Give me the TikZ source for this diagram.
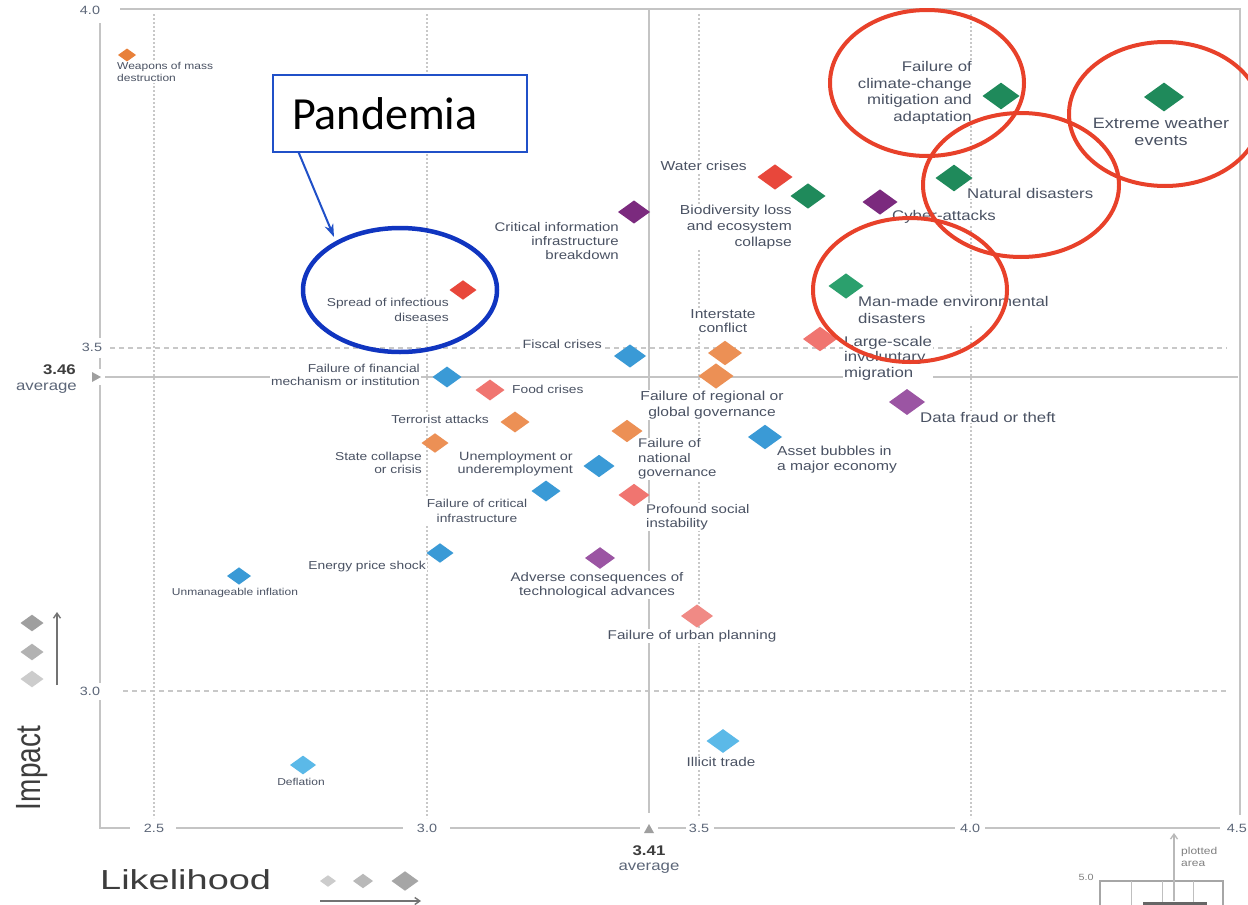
\documentclass[tikz,border=0pt]{standalone}
\usepackage{fontspec}
\setmainfont{Liberation Sans}[FakeStretch=1.2]
\newfontfamily\plainsans{Liberation Sans}
\newfontfamily\calib{Carlito}
\usetikzlibrary{shapes.geometric,arrows.meta,calc}

\definecolor{cor}{HTML}{EC9055}
\definecolor{corD}{HTML}{E8803A}
\definecolor{cgr}{HTML}{1F8A5B}
\definecolor{cgrL}{HTML}{2BA06D}
\definecolor{cred}{HTML}{E8473B}
\definecolor{csal}{HTML}{F07570}
\definecolor{csalL}{HTML}{F08A85}
\definecolor{cblu}{HTML}{3A9AD6}
\definecolor{cbluL}{HTML}{5BB9E8}
\definecolor{cpur}{HTML}{7B2A7E}
\definecolor{cpurL}{HTML}{9B55A3}
\definecolor{lblc}{HTML}{4A5263}
\definecolor{tickc}{HTML}{5C6678}
\definecolor{gridc}{HTML}{C8C8C8}
\definecolor{axc}{HTML}{C4C4C4}
\definecolor{ringred}{HTML}{E8412A}
\definecolor{ringblue}{HTML}{1035C0}
\definecolor{boxblue}{HTML}{2050C8}
\definecolor{titlec}{HTML}{3D3D3D}

\newcommand{\riskT}{\fontsize{10}{12}\selectfont}
\newcommand{\riskL}{\fontsize{12}{13.5}\selectfont}
\newcommand{\riskC}{\fontsize{13}{15}\selectfont}
\newcommand{\riskR}{\fontsize{14}{16.5}\selectfont}

\tikzset{
  dia/.style={shape=diamond, inner sep=0pt, outer sep=0pt, minimum width=#1pt, minimum height={0.72*#1pt}},
  lbl/.style={fill=white, inner sep=1pt, text=lblc},
  gridd/.style={draw=gridc, line width=1.6pt, dash pattern=on 1.6pt off 2.4pt},
  gridh/.style={draw=gridc, line width=1.4pt, dash pattern=on 5pt off 4pt},
  axisl/.style={draw=axc, line width=2pt},
  avgl/.style={draw=axc, line width=1.8pt},
  tick/.style={text=tickc, font=\fontsize{12}{14}\selectfont, inner sep=1pt},
  redring/.style={draw=ringred, line width=4pt},
  bluering/.style={draw=ringblue, line width=4.5pt},
  legdia/.style={dia=#1},
}

\begin{document}
\begin{tikzpicture}[x=1pt,y=-1pt]
\useasboundingbox (0,0) rectangle (1248,905);
\fill[white] (0,0) rectangle (1248,905);

% grid
\foreach \gx in {154,427,699,971} \draw[gridd] (\gx,14) -- (\gx,818);
\draw[gridh] (110,348) -- (1227,348);
\draw[gridh] (123,691) -- (1227,691);
\draw[avgl] (105,377) -- (1238,377);
\draw[avgl] (649,9) -- (649,813);

% frame / axes
\draw[axisl] (120,9) -- (1240,9) -- (1240,815);
\draw[axisl] (100,23) -- (100,338);
\draw[axisl] (100,358) -- (100,369);
\draw[axisl] (100,385) -- (100,683);
\draw[axisl] (100,700) -- (100,828) -- (130,828);
\draw[axisl] (176,828) -- (403,828);
\draw[axisl] (450,828) -- (640,828);
\draw[axisl] (658,828) -- (686,828);
\draw[axisl] (714,828) -- (955,828);
\draw[axisl] (985,828) -- (1220,828);

% average markers
\fill[gray!75] (92,372) -- (101,377) -- (92,382) -- cycle;
\fill[gray!75] (644,833) -- (649,824) -- (654,833) -- cycle;

% tick labels
\node[tick] (t40) at (90,10) {4.0};
\node[tick] (t35) at (92,347) {3.5};
\node[tick] (t30) at (90,691) {3.0};
\node[tick] (b25) at (154,828) {2.5};
\node[tick] (b30) at (427,828) {3.0};
\node[tick] (b35) at (699,828) {3.5};
\node[tick] (b40) at (970,828) {4.0};
\node[tick, anchor=east] (b45) at (1248,828) {4.5};
\node[text=titlec, font=\fontsize{14}{16}\selectfont\bfseries, anchor=east, inner sep=0pt] (avgy) at (76,370) {3.46};
\node[text=tickc, font=\fontsize{14}{16}\selectfont, anchor=east, inner sep=0pt] (avgyl) at (77,388) {average};
\node[text=titlec, font=\fontsize{14}{16}\selectfont\bfseries, inner sep=0pt] (avgx) at (649,851) {3.41};
\node[text=tickc, font=\fontsize{14}{16}\selectfont, inner sep=0pt] (avgxl) at (649,868) {average};

% labels
\node[lbl, font=\riskT, anchor=west, align=left] (lweap) at (116,72) {Weapons of mass\\destruction};
\node[lbl, font=\riskR, anchor=east, align=right] (lclim) at (973,93) {Failure of\\climate-change\\mitigation and\\adaptation};
\node[lbl, font=\fontsize{15}{17}\selectfont, align=center] (lext) at (1161,132) {Extreme weather\\events};
\node[lbl, font=\riskR, anchor=west] (lnat) at (966,193) {Natural disasters};
\node[lbl, font=\riskR, anchor=west] (lcyb) at (891,217) {Cyber-attacks};
\node[lbl, font=\riskC, anchor=east] (lwat) at (748,166) {Water crises};
\node[lbl, font=\fontsize{13}{16}\selectfont, anchor=east, align=right] (lbio) at (793,227) {Biodiversity loss\\and ecosystem\\collapse};
\node[lbl, font=\fontsize{12.5}{14}\selectfont, anchor=east, align=right] (lcii) at (620,241) {Critical information\\infrastructure\\breakdown};
\node[lbl, font=\fontsize{11.5}{15}\selectfont, anchor=east, align=right] (lspr) at (450,310) {Spread of infectious\\diseases};
\node[lbl, font=\riskR, anchor=west, align=left] (lman) at (857,310) {Man-made environmental\\disasters};
\node[lbl, font=\fontsize{14}{15.5}\selectfont, anchor=west, align=left] (llsm) at (843,358) {Large-scale\\involuntary\\migration};
\node[lbl, font=\riskR, anchor=west] (ldat) at (919,417) {Data fraud or theft};
\node[lbl, font=\fontsize{13}{14}\selectfont, align=center] (lint) at (723,321) {Interstate\\conflict};
\node[lbl, font=\fontsize{13}{16}\selectfont, align=center] (lreg) at (712,405) {Failure of regional or\\global governance};
\node[lbl, font=\riskL, anchor=east] (lfis) at (603,344) {Fiscal crises};
\node[lbl, font=\fontsize{11.5}{13}\selectfont, anchor=east, align=right] (lfin) at (421,375) {Failure of financial\\mechanism or institution};
\node[lbl, font=\fontsize{11.5}{13}\selectfont, anchor=west] (lfood) at (511,389) {Food crises};
\node[lbl, font=\fontsize{11.5}{13}\selectfont, anchor=east] (lter) at (490,419) {Terrorist attacks};
\node[lbl, font=\fontsize{11.5}{13}\selectfont, anchor=east, align=right] (lsta) at (423,463) {State collapse\\or crisis};
\node[lbl, font=\fontsize{12}{13}\selectfont, anchor=east, align=right] (lune) at (574,464) {Unemployment or\\underemployment};
\node[lbl, font=\fontsize{12.5}{14.5}\selectfont, anchor=west, align=left] (lnag) at (637,459) {Failure of\\national\\governance};
\node[lbl, font=\riskC, anchor=west, align=left] (lass) at (776,460) {Asset bubbles in\\a major economy};
\node[lbl, font=\fontsize{11.5}{15}\selectfont, align=center] (lcin) at (477,511) {Failure of critical\\infrastructure};
\node[lbl, font=\fontsize{12.5}{14}\selectfont, anchor=west, align=left] (lpro) at (645,517) {Profound social\\instability};
\node[lbl, font=\fontsize{11.5}{13}\selectfont, anchor=east] (lene) at (427,567) {Energy price shock};
\node[lbl, font=\riskT, align=center] (luni) at (235,593) {Unmanageable inflation};
\node[lbl, font=\fontsize{12.5}{14}\selectfont, align=center] (ladv) at (597,585) {Adverse consequences of\\technological advances};
\node[lbl, font=\fontsize{12.7}{14}\selectfont, align=center] (lurb) at (692,636) {Failure of urban planning};
\node[lbl, font=\fontsize{12.7}{14}\selectfont, align=center] (lill) at (721,762) {Illicit trade};
\node[lbl, font=\riskT, align=center] (ldef) at (301,782) {Deflation};

% diamonds
\node[dia=18, fill=corD] (weap) at (127,55) {};
\node[dia=37, fill=cgr] (clim) at (1001,96) {};
\node[dia=40, fill=cgr] (ext) at (1164,97) {};
\node[dia=37, fill=cgr] (nat) at (954,178) {};
\node[dia=35, fill=cpur] (cyb) at (880,202) {};
\node[dia=35, fill=cred] (wat) at (775,177) {};
\node[dia=35, fill=cgr] (bio) at (808,196) {};
\node[dia=32, fill=cpur] (cii) at (634,212) {};
\node[dia=27, fill=cred] (spr) at (463,290) {};
\node[dia=35, fill=cgrL] (man) at (846,286) {};
\node[dia=34, fill=csal] (lsm) at (820,339) {};
\node[dia=36, fill=cpurL] (dat) at (907,402) {};
\node[dia=34, fill=cor] (int) at (725,353) {};
\node[dia=35, fill=cor] (reg) at (716,376) {};
\node[dia=32, fill=cblu] (fis) at (630,356) {};
\node[dia=29, fill=cblu] (fin) at (447,377) {};
\node[dia=29, fill=csal] (food) at (490,390) {};
\node[dia=29, fill=cor] (ter) at (515,422) {};
\node[dia=27, fill=cor] (sta) at (435,443) {};
\node[dia=31, fill=cblu] (une) at (599,466) {};
\node[dia=31, fill=cor] (nag) at (627,431) {};
\node[dia=34, fill=cblu] (ass) at (765,437) {};
\node[dia=29, fill=cblu] (cin) at (546,491) {};
\node[dia=31, fill=csal] (pro) at (634,495) {};
\node[dia=27, fill=cblu] (ene) at (440,553) {};
\node[dia=24, fill=cblu] (uni) at (239,576) {};
\node[dia=30, fill=cpurL] (adv) at (600,558) {};
\node[dia=32, fill=csalL] (urb) at (697,616) {};
\node[dia=33, fill=cbluL] (ill) at (723,741) {};
\node[dia=26, fill=cbluL] (def) at (303,765) {};

% impact legend
\node[legdia=23, fill=gray!75] (ig1) at (32,623) {};
\node[legdia=23, fill=gray!60] (ig2) at (32,652) {};
\node[legdia=23, fill=gray!40] (ig3) at (32,679) {};
\coordinate (iarB) at (57,685);
\coordinate (iarT) at (57,612);
\draw[black!55, line width=1.4pt, -{Straight Barb[length=5pt,width=7pt]}] (iarB) -- (iarT);
\node[text=titlec, rotate=90, font=\plainsans\fontsize{28}{30}\selectfont, inner sep=0pt] (impact) at (32,768) {\scalebox{1}[1.25]{Impact}};

% likelihood legend
\node[text=titlec, anchor=west, font=\fontsize{27.5}{30}\selectfont, inner sep=0pt] (likel) at (100,880) {\scalebox{1.15}[1]{Likelihood}};
\node[legdia=16, fill=gray!40] (lg1) at (328,881) {};
\node[legdia=20, fill=gray!55] (lg2) at (363,881) {};
\node[legdia=27, fill=gray!70] (lg3) at (405,881) {};
\coordinate (larL) at (320,901);
\coordinate (larR) at (421,901);
\draw[black!55, line width=1.4pt, -{Straight Barb[length=5pt,width=7pt]}] (larL) -- (larR);

% plotted area inset
\node[text=gray, font=\fontsize{9}{10}\selectfont, inner sep=0pt] (five) at (1086,877) {5.0};
\draw[gray!70, line width=1.2pt] (1100,912) -- (1100,881) -- (1223,881) -- (1223,912);
\foreach \dx in {1131,1162,1193} \draw[gray!50, line width=1pt] (\dx,881) -- (\dx,912);
\fill[black!60] (1143,902) rectangle (1207,912);
\coordinate (parB) at (1174,901);
\coordinate (parT) at (1174,833);
\draw[gray!55, line width=1.3pt, -{Straight Barb[length=5pt,width=7pt]}] (parB) -- (parT);
\node[text=gray, font=\fontsize{10}{12}\selectfont, anchor=west, align=left, inner sep=0pt] (plotted) at (1181,857) {plotted\\area};

% annotation rings
\draw[redring] (927,83) ellipse [x radius=97pt, y radius=73pt];
\draw[redring] (1165,114) ellipse [x radius=96pt, y radius=72pt];
\draw[redring] (1021,185) ellipse [x radius=98pt, y radius=72pt];
\draw[redring] (910,290) ellipse [x radius=97pt, y radius=72pt];
\draw[bluering] (400,290) ellipse [x radius=97pt, y radius=62pt];

% Pandemia box and arrow
\node[draw=boxblue, line width=1.6pt, fill=white, minimum height=77pt, text width=216pt, inner xsep=19pt, align=left, font=\calib\fontsize{46}{50}\selectfont, text=black] (pand) at (400,113.5) {Pandemia};
\coordinate (pandtip) at (334,237);
\draw[boxblue, line width=2pt, -{Stealth[length=13pt,width=9pt]}] ($(pand.south west)!0.104!(pand.south east)$) -- (pandtip);
\end{tikzpicture}
\end{document}
